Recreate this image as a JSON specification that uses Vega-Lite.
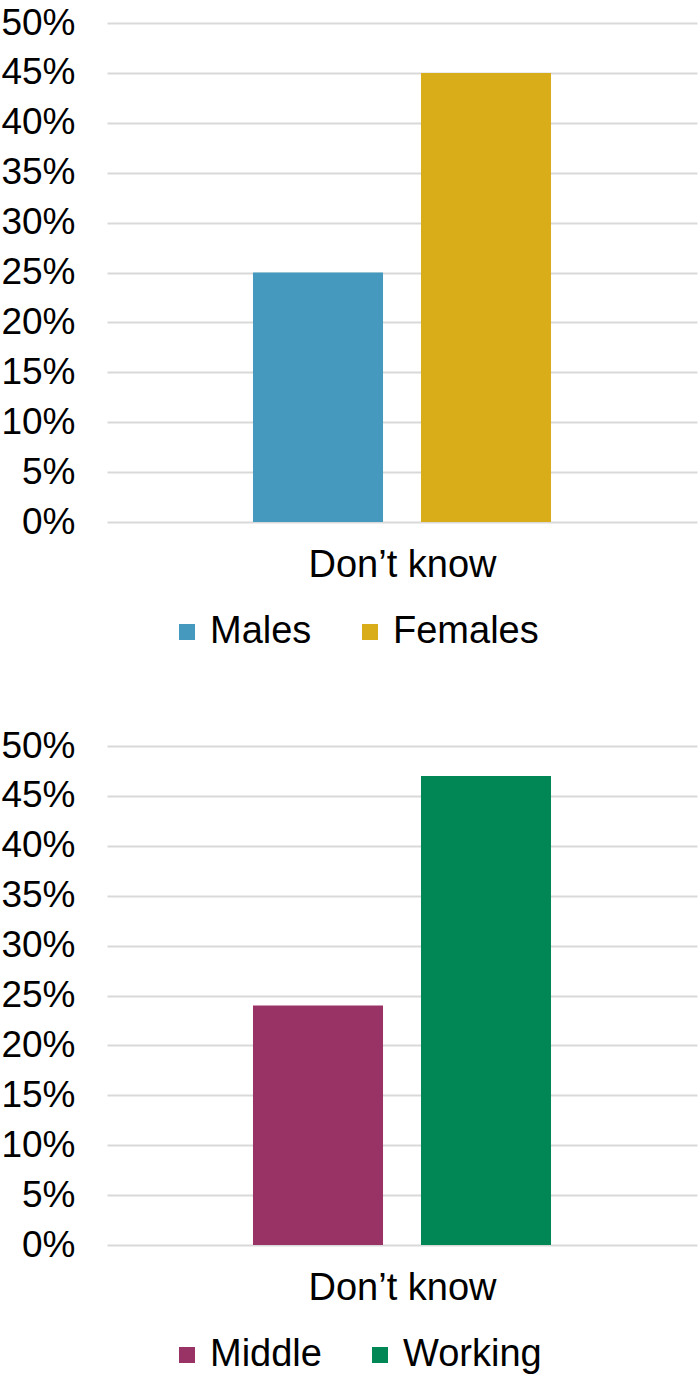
{
  "$schema": "https://vega.github.io/schema/vega-lite/v6.json",
  "background": "white",
  "padding": {"left": 0, "top": 4, "right": 3, "bottom": 5},
  "spacing": 76,
  "datasets": {
    "gender": [
      {"group": "Males", "value": 0.25},
      {"group": "Females", "value": 0.45}
    ],
    "class": [
      {"group": "Middle", "value": 0.24},
      {"group": "Working", "value": 0.47}
    ]
  },
  "config": {
    "font": "Liberation Sans",
    "view": {"stroke": null},
    "axisX": {"labels": false, "ticks": false, "domain": false, "titleFontSize": 38, "titleFontWeight": "normal", "titleColor": "black", "titlePadding": 24},
    "axisY": {"format": ".0%", "values": [0, 0.05, 0.1, 0.15, 0.2, 0.25, 0.3, 0.35, 0.4, 0.45, 0.5], "title": null, "ticks": false, "domain": false, "gridColor": "#d9d9d9", "gridWidth": 2, "labelFontSize": 37, "labelPadding": 32, "labelColor": "black"},
    "legend": {"orient": "none", "legendX": 61, "legendY": 590, "direction": "horizontal", "title": null, "symbolType": "square", "symbolSize": 256, "labelFontSize": 38, "labelColor": "black", "columnPadding": 39, "symbolStrokeWidth": 0, "labelOffset": 4, "labelLimit": 0}
  },
  "resolve": {"scale": {"color": "independent"}, "legend": {"color": "independent"}},
  "vconcat": [
    {
      "width": 590,
      "height": 499,
      "data": {"name": "gender"},
      "mark": {"type": "bar"},
      "encoding": {
        "x": {"field": "group", "type": "nominal", "sort": ["Males", "Females"], "title": "Don’t know", "scale": {"paddingInner": 0.226, "paddingOuter": 0.869}},
        "y": {"field": "value", "type": "quantitative", "scale": {"domain": [0, 0.5]}},
        "color": {"field": "group", "type": "nominal", "scale": {"domain": ["Males", "Females"], "range": ["#4599BE", "#D9AD1A"]}}
      }
    },
    {
      "width": 590,
      "height": 499,
      "data": {"name": "class"},
      "mark": {"type": "bar"},
      "encoding": {
        "x": {"field": "group", "type": "nominal", "sort": ["Middle", "Working"], "title": "Don’t know", "scale": {"paddingInner": 0.226, "paddingOuter": 0.869}},
        "y": {"field": "value", "type": "quantitative", "scale": {"domain": [0, 0.5]}},
        "color": {"field": "group", "type": "nominal", "scale": {"domain": ["Middle", "Working"], "range": ["#993366", "#008755"]}}
      }
    }
  ]
}
